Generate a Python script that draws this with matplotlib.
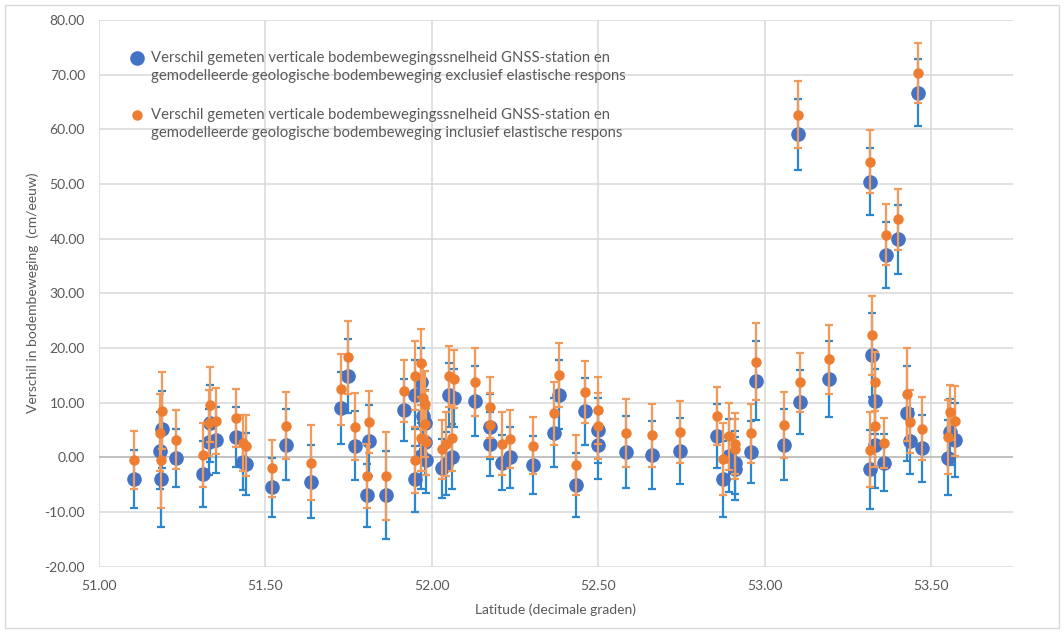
import numpy as np
import matplotlib.pyplot as plt
from matplotlib.lines import Line2D
from matplotlib.patches import Rectangle

plt.rcParams['font.family'] = ['Lato', 'DejaVu Sans']

# latitude of each GNSS station (decimal degrees)
latitude = [51.106, 51.183, 51.186, 51.190, 51.231, 51.313, 51.330, 51.335, 51.353, 51.411,
            51.433, 51.443, 51.521, 51.563, 51.638, 51.726, 51.747, 51.768, 51.806, 51.810,
            51.863, 51.917, 51.950, 51.950, 51.966, 51.966, 51.974, 51.979, 51.979, 51.981,
            52.031, 52.043, 52.050, 52.060, 52.066, 52.129, 52.175, 52.175, 52.210, 52.234,
            52.305, 52.368, 52.383, 52.433, 52.460, 52.500, 52.500, 52.583, 52.660, 52.745,
            52.856, 52.873, 52.893, 52.910, 52.910, 52.957, 52.973, 53.056, 53.100, 53.104,
            53.192, 53.315, 53.316, 53.321, 53.330, 53.330, 53.357, 53.365, 53.400, 53.428,
            53.435, 53.460, 53.472, 53.551, 53.557, 53.572]

# difference excl. elastic response (cm/eeuw) and its uncertainty
excl = [-3.9, 1.2, -3.9, 5.1, -0.2, -3.1, 2.8, 6.2, 3.2, 3.7,
        -0.8, -1.3, -5.5, 2.3, -4.5, 9.0, 14.8, 2.1, -7.0, 3.0,
        -6.9, 8.6, 11.4, -4.0, 13.8, 0.2, 7.5, 6.3, 2.7, -0.6,
        -2.0, -1.2, 11.4, 0.1, 10.8, 10.2, 5.6, 2.4, -1.0, 0.0,
        -1.5, 4.5, 11.4, -5.1, 8.4, 4.9, 2.2, 1.0, 0.4, 1.1,
        3.9, -4.0, 0.3, -1.0, -2.1, 0.9, 14.0, 2.3, 59.1, 10.1,
        14.3, 50.4, -2.2, 18.7, 10.2, 2.2, -1.0, 37.0, 39.9, 8.0,
        2.9, 66.7, 1.6, -0.1, 4.6, 3.1]
excl_err = [5.3, 7.0, 8.8, 7.0, 5.3, 6.0, 6.0, 7.0, 6.0, 5.5,
            5.2, 5.7, 5.4, 6.5, 6.7, 6.5, 6.8, 6.3, 5.8, 6.5,
            8.0, 5.7, 6.3, 6.0, 6.2, 6.0, 6.0, 6.0, 6.0, 6.0,
            5.4, 5.8, 5.8, 6.0, 5.3, 6.4, 6.0, 5.9, 5.0, 5.6,
            5.3, 6.3, 6.3, 5.8, 6.1, 6.0, 6.1, 6.6, 6.3, 6.0,
            5.8, 6.9, 6.7, 5.8, 5.8, 5.7, 7.2, 6.5, 6.5, 5.8,
            6.9, 6.1, 7.2, 7.6, 6.0, 7.8, 5.2, 6.1, 6.3, 8.7,
            6.0, 6.1, 6.2, 6.9, 6.0, 6.8]

# difference incl. elastic response (cm/eeuw) and its uncertainty
incl = [-0.5, 4.5, -0.5, 8.5, 3.2, 0.4, 6.3, 9.6, 6.6, 7.1,
        2.6, 2.1, -2.0, 5.8, -1.0, 12.4, 18.3, 5.6, -3.4, 6.5,
        -3.4, 12.1, 14.9, -0.5, 17.3, 3.5, 10.9, 9.8, 6.1, 2.8,
        1.5, 2.4, 14.8, 3.5, 14.3, 13.7, 9.1, 5.9, 2.5, 3.4,
        2.1, 8.0, 15.0, -1.5, 11.9, 8.6, 5.7, 4.5, 4.0, 4.6,
        7.5, -0.4, 3.8, 2.5, 1.5, 4.4, 17.5, 5.9, 62.7, 13.7,
        17.9, 54.1, 1.4, 22.3, 13.8, 5.8, 2.6, 40.7, 43.5, 11.5,
        6.5, 70.3, 5.2, 3.7, 8.2, 6.7]
incl_err = [5.3, 7.0, 8.7, 7.0, 5.4, 5.9, 6.0, 6.9, 6.0, 5.3,
            5.2, 5.6, 5.2, 6.2, 6.9, 6.5, 6.7, 6.1, 5.8, 5.7,
            8.0, 5.6, 6.3, 6.0, 6.2, 6.0, 6.0, 6.0, 6.0, 6.0,
            5.4, 5.8, 5.6, 6.0, 5.3, 6.2, 5.6, 5.9, 5.8, 5.3,
            5.2, 5.8, 5.9, 5.5, 5.7, 6.1, 6.0, 6.2, 5.8, 5.6,
            5.3, 6.6, 6.2, 5.5, 5.5, 5.4, 7.0, 6.0, 6.2, 5.4,
            6.3, 5.7, 6.9, 7.2, 5.4, 7.5, 4.5, 5.6, 5.6, 8.5,
            5.8, 5.5, 5.8, 6.8, 5.0, 6.4]

label_excl = ['Verschil gemeten verticale bodembewegingssnelheid GNSS-station en',
              'gemodelleerde geologische bodembeweging exclusief elastische respons']
label_incl = ['Verschil gemeten verticale bodembewegingssnelheid GNSS-station en',
              'gemodelleerde geologische bodembeweging inclusief elastische respons']

text_grey = '#595959'
grid_grey = '#D9D9D9'
W, H = 1064, 633

fig = plt.figure(figsize=(10.64, 6.33), dpi=100)
ax = fig.add_axes([0.093, 0.105, 0.859, 0.8635])

ax.errorbar(latitude, excl, yerr=excl_err, fmt='o', color='#4472C4', markersize=9.5,
            ecolor='#2A87D0', elinewidth=1.6, capsize=3.2, capthick=1.6, zorder=3)
ax.errorbar(latitude, incl, yerr=incl_err, fmt='o', color='#ED7D31', markersize=6.5,
            ecolor='#F29A5A', elinewidth=1.6, capsize=3.2, capthick=1.6, zorder=4)

ax.set_xlim(51.0, 53.745)
ax.set_ylim(-20, 80)
ax.set_xticks(np.arange(51.0, 53.51, 0.5))
ax.set_yticks(np.arange(-20, 81, 10))
ax.xaxis.set_major_formatter(plt.FormatStrFormatter('%.2f'))
ax.yaxis.set_major_formatter(plt.FormatStrFormatter('%.2f'))
ax.grid(True, color=grid_grey, linewidth=1.1, zorder=0)
ax.set_axisbelow(True)
ax.axhline(0, color='#BFBFBF', linewidth=1.3, zorder=1)
for side in ['top', 'right', 'left', 'bottom']:
    ax.spines[side].set_visible(False)
ax.tick_params(length=0, labelsize=10, labelcolor=text_grey, pad=10)

ax.set_xlabel('Latitude (decimale graden)', fontsize=10, color=text_grey, labelpad=8)
ax.set_ylabel('Verschil in bodembeweging  (cm/eeuw)', fontsize=10, color=text_grey, labelpad=4)

# legend drawn by hand: the marker sits next to the first line of each entry
legend_rows = [(label_excl, 58, '#4472C4', 9.5), (label_incl, 115, '#ED7D31', 6.5)]
for lines, top, colour, msize in legend_rows:
    fig.add_artist(Line2D([137 / W], [1 - top / H], transform=fig.transFigure,
                          ls='none', marker='o', color=colour, markersize=msize))
    for i, line in enumerate(lines):
        fig.text(151 / W, 1 - (top + 18 * i) / H, line, fontsize=10.7,
                 color=text_grey, va='center', ha='left')

fig.patches.append(Rectangle((5 / W, 5 / H), 1054 / W, 623 / H, transform=fig.transFigure,
                             fill=False, edgecolor=grid_grey, linewidth=1))

fig.savefig('out.png', dpi=100)
